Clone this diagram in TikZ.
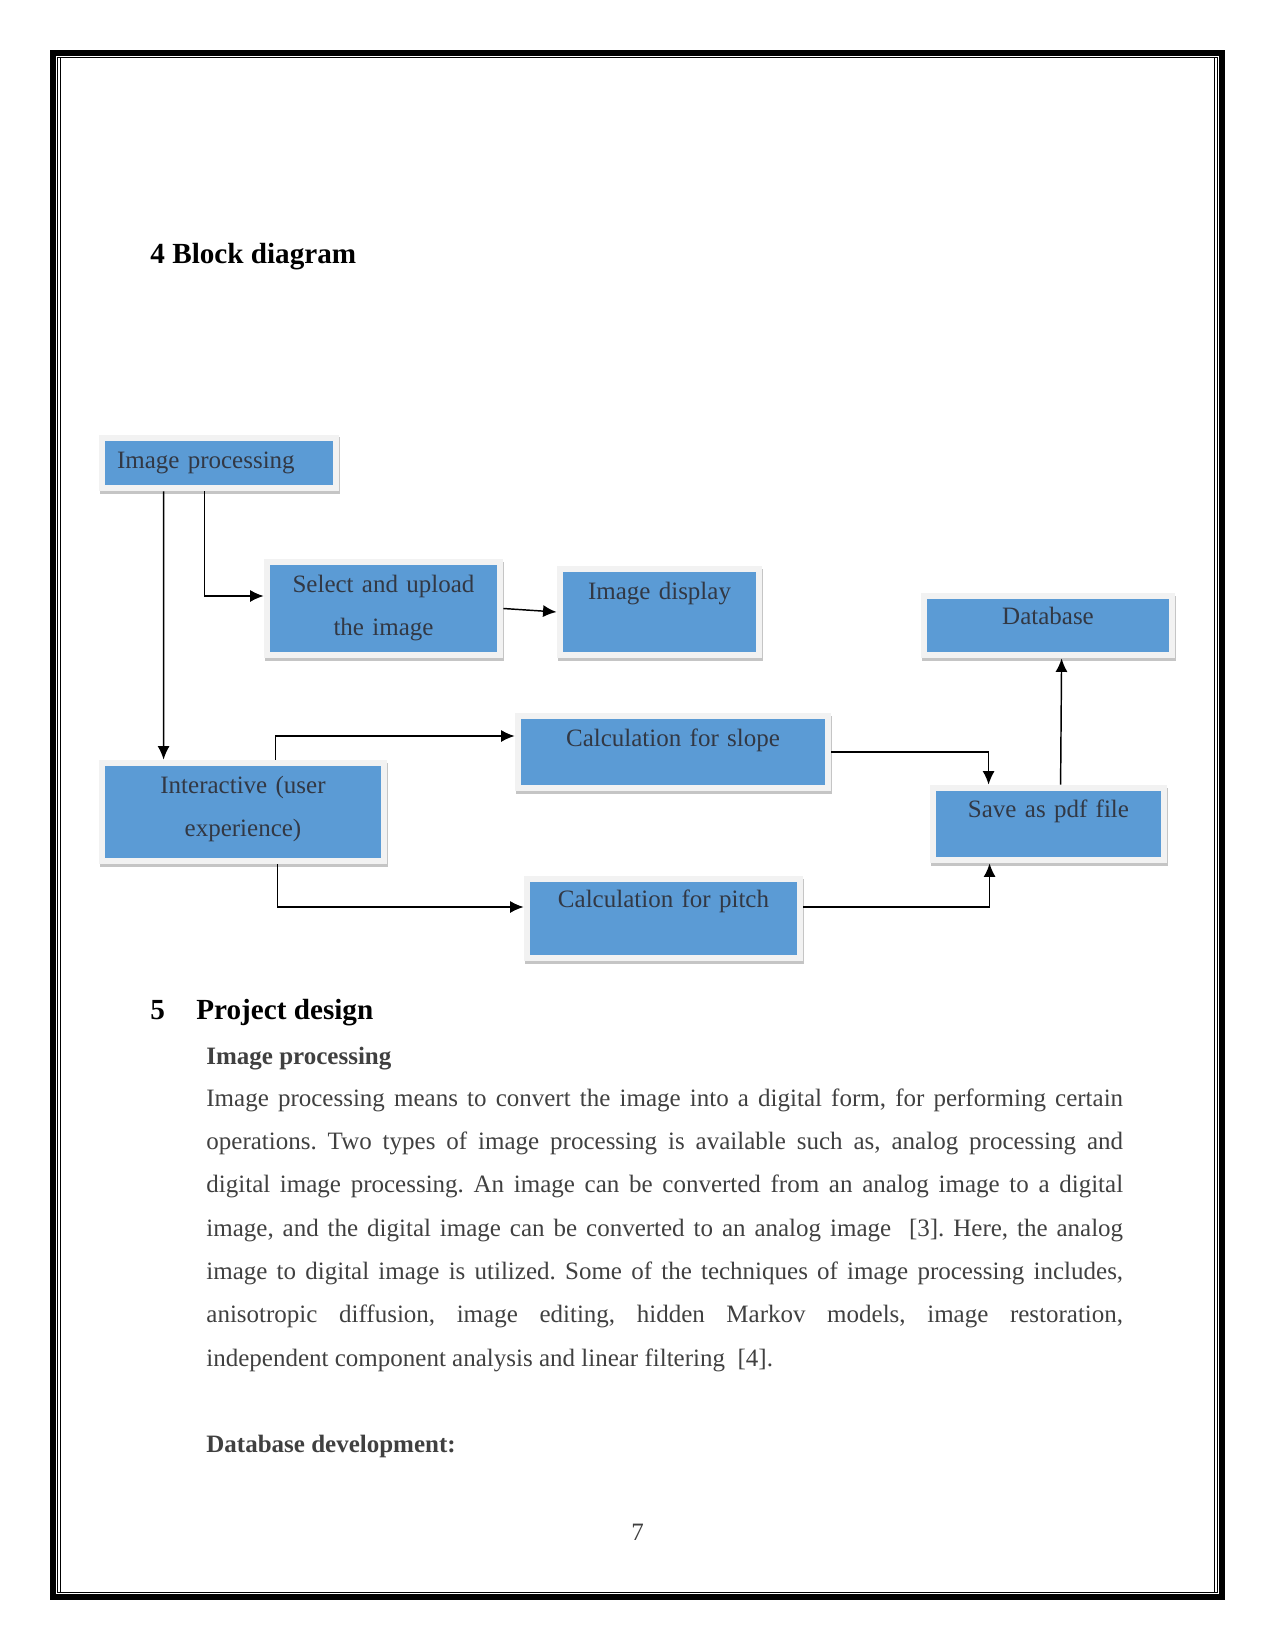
\documentclass[tikz,border=0pt]{standalone}
\usepackage{fontspec}
\setmainfont{Liberation Serif}
\usepackage{xcolor}
\usetikzlibrary{arrows.meta,calc,shadows}
\definecolor{boxc}{RGB}{91,155,213}
\definecolor{frmc}{RGB}{242,242,242}
\definecolor{txtc}{RGB}{50,56,68}
\definecolor{parc}{RGB}{64,64,64}

\begin{document}
\frenchspacing
\begin{tikzpicture}[x=0.48pt,y=-0.48pt,>={Latex[length=6.5pt,width=5.8pt]},
  blk/.style={fill=frmc,inner sep=0pt,text=txtc,align=center,
    font=\fontsize{12}{20.7}\selectfont,
    drop shadow={shadow xshift=0.4pt,shadow yshift=-1.2pt,fill=black!45,opacity=0.5},
    path picture={\fill[boxc] ([shift={(2.88pt,2.88pt)}]path picture bounding box.south west)
      rectangle ([shift={(-2.88pt,-2.88pt)}]path picture bounding box.north east);}},
  arr/.style={->,line width=0.7pt},
  hd/.style={anchor=base west,inner sep=0pt,font=\fontsize{14}{16}\selectfont\bfseries}]
  \useasboundingbox (0,0) rectangle (1275,1650);
  % page frame
  \draw[line width=2.88pt] (53,53) rectangle (1222,1597);
  \draw[line width=0.5pt] (57.5,57.5) rectangle (1217.5,1592.5);
  \draw[line width=0.5pt] (60.5,58) -- (60.5,1592) (1214.5,58) -- (1214.5,1592);
  \node[hd] (hblk) at (150,264) {4 Block diagram};
  % boxes, frame size in px, text height = top to first baseline
  \node[blk,minimum width=115.2pt,text width=97.92pt,align=left,
    text height=15.84pt,text depth=11.04pt] (ip) at (219,463) {Image processing};
  \node[blk,text width=114.72pt,text height=15.84pt,text depth=31.68pt] (sel) at (383.5,608.5)
    {Select and upload\\the image};
  \node[blk,text width=98.4pt,text height=15.84pt,text depth=28.32pt] (disp) at (659.5,612)
    {Image display};
  \node[blk,text width=121.92pt,text height=15.12pt,text depth=16.08pt] (db) at (1048,625.5)
    {Database};
  \node[blk,text width=151.68pt,text height=15.84pt,text depth=21.6pt] (slope) at (673,752)
    {Calculation for slope};
  \node[blk,text width=138.24pt,text height=15.84pt,text depth=34.08pt] (ux) at (243,812)
    {Interactive (user\\experience)};
  \node[blk,text width=113.76pt,text height=15.36pt,text depth=22.08pt] (save) at (1048.5,824)
    {Save as pdf file};
  \node[blk,text width=133.92pt,text height=15.12pt,text depth=25.68pt] (pitch) at (663.5,918.5)
    {Calculation for pitch};
  % connectors
  \draw[arr] ($(ip.south west)+(65,0)$) -- ($(ux.north west)+(65,0)$);
  \draw[arr] ($(ip.south west)+(106,0)$) |- ($(sel.west)+(0,-12.5)$);
  \draw[arr] (sel.east) -- (disp.west);
  \draw[arr] ($(ux.north west)+(177,0)$) |- ($(slope.west)+(0,-16)$);
  \draw[arr] ($(ux.south west)+(179,0)$) |- ($(pitch.west)+(0,-11.5)$);
  \draw[arr] (slope.east) -| ($(save.north west)+(59,0)$);
  \draw[arr] ($(pitch.east)+(0,-11.5)$) -| ($(save.south west)+(60,0)$);
  \draw[arr] ($(save.north west)+(131,0)$) -- ($(db.south west)+(141,0)$);
  % section 5
  \node[hd] (hnum) at (150,1019) {5};
  \node[hd] (hproj) at (196,1019) {Project design};
  \node[anchor=base west,inner sep=0pt,text=parc,font=\fontsize{12}{14}\selectfont\bfseries]
    (hip) at (206,1064) {Image processing};
  \node[anchor=base west,inner sep=0pt,text=parc,text width=440pt,align=justify,
    font=\fontsize{12}{20.8}\selectfont] (par) at (206,1106) {\noindent\tolerance=9999
    \spaceskip=3pt plus 3pt minus 0.5pt
    Image processing means to convert the image into a digital form, for performing certain\linebreak
    operations. Two types of image processing is available such as, analog processing and\linebreak
    digital image processing. An image can be converted from an analog image to a digital\linebreak
    image, and the digital image can be converted to an analog image~ [3]. Here, the analog\linebreak
    image to digital image is utilized. Some of the techniques of image processing includes,\linebreak
    anisotropic diffusion, image editing, hidden Markov models, image restoration,\linebreak
    independent component analysis and linear filtering~ [4].};
  \node[anchor=base west,inner sep=0pt,text=parc,font=\fontsize{12}{14}\selectfont\bfseries]
    (hdb) at (206,1452) {Database development:};
  \node[anchor=base,inner sep=0pt,text=parc,font=\fontsize{12}{14}\selectfont] (pgno) at (637.5,1540) {7};
\end{tikzpicture}
\end{document}
